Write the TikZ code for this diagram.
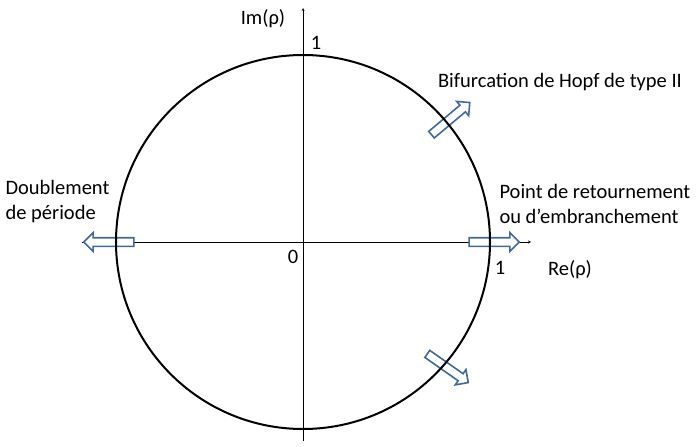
\documentclass[tikz,border=0pt]{standalone}
\usepackage{xcolor}
\usepackage{fontspec}
\setmainfont{Carlito}
\usetikzlibrary{shapes.arrows}

\begin{document}
\begin{tikzpicture}[x=1pt, y=-1pt, every node/.style={font=\fontsize{20.5}{25}\selectfont},
  fleche/.style={single arrow, draw=bleuFleche, fill=white, line width=1.6pt,
    minimum height=50pt, single arrow head extend=5pt,
    single arrow head indent=0pt, inner xsep=0pt, inner ysep=3.5pt}]
  \definecolor{bleuFleche}{RGB}{65,105,155}
  \useasboundingbox (0,0) rectangle (697,447);

  \coordinate (O) at (303,242);
  \coordinate (xmin) at (82,242);
  \coordinate (xmax) at (531,242);
  \coordinate (ymin) at (303,441);
  \coordinate (ymax) at (303,8);

  \draw[->, >=stealth, thin] (xmin) -- (xmax);
  \draw[->, >=stealth, thin] (ymin) -- (ymax);

  \node[fleche, rotate=180] (gauche) at (111,242) {};
  \node[fleche] (droite) at (492,242) {};
  \node[fleche, rotate=40] (haut) at (449,120) {};
  \node[fleche, rotate=-35] (bas) at (446,367) {};

  \draw[line width=2pt] (O) circle (187);

  \node (im) at (263,19) {Im(ρ)};
  \node (un) at (316,43) {1};
  \node (zero) at (293,257) {0};
  \node (unre) at (500,268) {1};
  \node (re) at (570,270) {Re(ρ)};
  \node (hopf) at (560,82) {Bifurcation de Hopf de type II};
  \node[anchor=west, align=left] (retour) at (496,204) {Point de retournement\\ou d’embranchement};
  \node[anchor=west, align=left] (doubl) at (2,202) {Doublement\\de période};
\end{tikzpicture}
\end{document}
